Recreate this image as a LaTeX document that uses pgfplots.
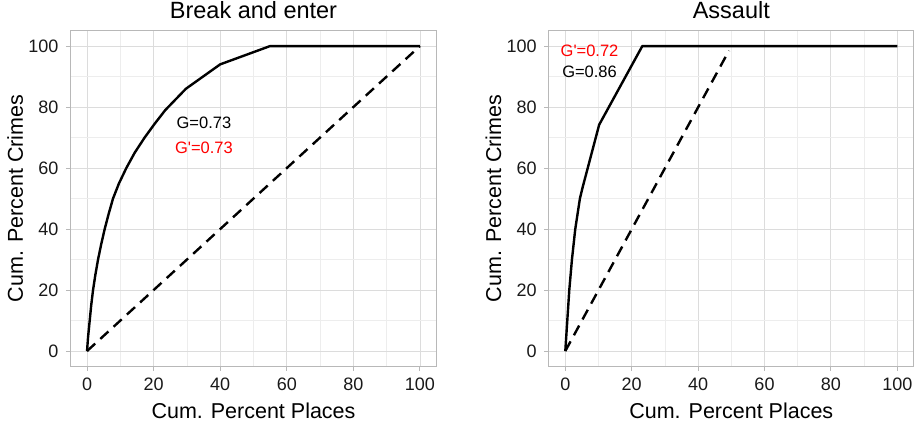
\documentclass[border=0pt]{standalone}
\usepackage{fontspec}
\setmainfont{Liberation Sans}
\newfontfamily\annfont[Ligatures=ResetAll]{Liberation Sans}
\usepackage{pgfplots}
\pgfplotsset{compat=1.18}
\definecolor{border}{HTML}{B8B8B8}
\definecolor{gmaj}{HTML}{DCDCDC}
\definecolor{gmin}{HTML}{EDEDED}
\definecolor{gred}{HTML}{FF0000}
\pgfplotsset{
  lor/.style={
    scale only axis,
    height=335.5pt,
    ymin=-5, ymax=105, xmin=-5, xmax=105,
    xtick={0,20,40,60,80,100}, ytick={0,20,40,60,80,100},
    minor xtick={10,30,50,70,90}, minor ytick={10,30,50,70,90},
    grid=both,
    major grid style={draw=gmaj, line width=0.9pt},
    minor grid style={draw=gmin, line width=0.6pt},
    axis line style={draw=border, line width=1.1pt},
    tick align=outside,
    major tick length=4.5pt, minor tick length=0pt,
    tick style={draw=border, line width=1pt},
    xtick pos=bottom, ytick pos=left,
    /pgf/number format/assume math mode=true,
    tick label style={font=\fontsize{18}{21}\selectfont, text=black!90},
    xticklabel style={yshift=-4pt},
    yticklabel style={xshift=-4pt},
    xlabel={Cum. Percent Places},
    ylabel={Cum. Percent Crimes},
    label style={font=\fontsize{21.5}{24}\selectfont},
    xlabel style={at={(axis description cs:0.5,-0.133)}, anchor=center},
    ylabel style={at={(axis description cs:-0.151,0.5)}, anchor=center},
    title style={font=\fontsize{23.5}{26}\selectfont, at={(axis description cs:0.5,1.045)}, anchor=center},
    clip=false,
  }
}
\begin{document}
\begin{tikzpicture}[x=1pt,y=1pt]
\useasboundingbox (0,0) rectangle (918,424);
\begin{axis}[lor, at={(70.4pt,57.7pt)}, anchor=south west, width=366.2pt, title={Break and enter}]
\addplot[black, line width=2.4pt, line join=round] coordinates {
(0,0) (0.3,4.5) (0.8,10) (1.25,15) (1.8,20) (2.5,25) (3.3,30) (4.25,35) (5.3,40) (6.5,45) (7.8,50) (9.6,55) (11.8,60) (14.3,65) (17.3,70) (20.3,74.5) (23.5,79) (29.7,86) (40,94) (55,100) (100,100)};
\addplot[black, line width=2.4pt, dash pattern=on 11pt off 7pt] coordinates {(0,0) (100,100)};
\node[font=\annfont\fontsize{16.5}{19}\selectfont, text=black] at (axis cs:35.1,74.7) {G=0.73};
\node[font=\annfont\fontsize{16.5}{19}\selectfont, text=gred] at (axis cs:35.1,66.5) {G'=0.73};
\end{axis}
\begin{axis}[lor, at={(548.7pt,57.7pt)}, anchor=south west, width=365.2pt, title={Assault}]
\addplot[black, line width=2.4pt, line join=round] coordinates {
(0,0) (0.3,5) (0.6,10) (1.2,20) (2.0,30) (3.0,40) (4.4,50) (5.2,53.6) (10.2,74.2) (23.2,100) (100,100)};
\addplot[black, line width=2.4pt, dash pattern=on 11pt off 7pt] coordinates {(0,0) (49.3,98.5)};
\node[font=\annfont\fontsize{16.5}{19}\selectfont, text=gred] at (axis cs:7.3,98.5) {G'=0.72};
\node[font=\annfont\fontsize{16.5}{19}\selectfont, text=black] at (axis cs:7.3,91.4) {G=0.86};
\end{axis}
\end{tikzpicture}
\end{document}
